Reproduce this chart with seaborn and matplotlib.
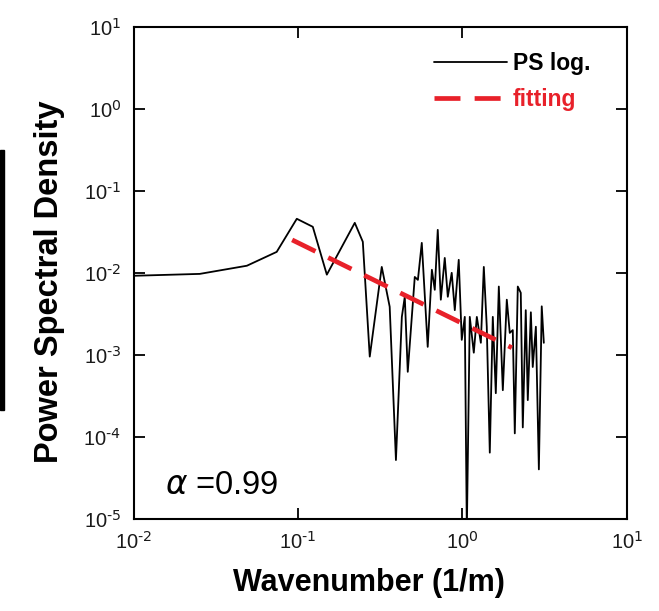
import numpy as np
import pandas as pd
import seaborn as sns
import matplotlib.pyplot as plt
from matplotlib.ticker import FixedLocator, NullLocator, FuncFormatter
from matplotlib.patches import Rectangle

# power spectrum (wavenumber 1/m, PSD)
ps_k = [0.0100, 0.0252, 0.0488, 0.0741, 0.0982, 0.1229, 0.1496, 0.2213, 0.2477,
        0.273, 0.323, 0.361, 0.394, 0.428, 0.446, 0.465, 0.513, 0.536, 0.566,
        0.615, 0.652, 0.679, 0.708, 0.739, 0.781, 0.815, 0.861, 0.899, 0.950,
        0.991, 1.034, 1.064, 1.109, 1.173, 1.224, 1.295, 1.350, 1.407, 1.468,
        1.531, 1.597, 1.666, 1.762, 1.863, 1.942, 2.026, 2.084, 2.173, 2.266,
        2.331, 2.430, 2.500, 2.610, 2.680, 2.800, 2.920, 3.040, 3.130]
ps_val = [0.0092, 0.0097, 0.0122, 0.0180, 0.0456, 0.0364, 0.0095, 0.0407, 0.0239,
          0.00095, 0.0118, 0.00385, 5.2e-5, 0.0029, 0.0051, 0.00062, 0.0089, 0.0082, 0.0232,
          0.00125, 0.0109, 0.0062, 0.0334, 0.0047, 0.0152, 0.0051, 0.0100, 0.0035, 0.0144,
          0.00152, 0.0029, 7e-6, 0.0029, 0.00106, 0.0029, 0.0014, 0.0118, 0.0022, 6.4e-5,
          0.0029, 0.00034, 0.0068, 0.00037, 0.0047, 0.00185, 0.0020, 0.00011, 0.0068, 0.0057,
          0.00013, 0.0035, 0.00028, 0.0033, 0.00071, 0.0022, 4.0e-5, 0.0039, 0.0014]

# power-law fit, alpha = 0.99
fit_k = [0.092, 2.0]
fit_val = [0.0252, 0.00122]

# decade ticks
x_ticks = [1e-2, 1e-1, 1e0, 1e1]
y_ticks = [1e-5, 1e-4, 1e-3, 1e-2, 1e-1, 1e0, 1e1]

sns.set_style('ticks')
plt.rcParams['font.family'] = ['Liberation Sans', 'DejaVu Sans']
plt.rcParams['mathtext.default'] = 'regular'
plt.rcParams['axes.unicode_minus'] = False
plt.rcParams['text.color'] = 'black'
plt.rcParams['axes.labelcolor'] = 'black'

fig = plt.figure(figsize=(6.59, 6.11), dpi=100)
ax = fig.add_axes([0.203, 0.151, 0.748, 0.805])

ps = pd.DataFrame({'k': ps_k, 'psd': ps_val})
fit = pd.DataFrame({'k': fit_k, 'psd': fit_val})
sns.lineplot(data=ps, x='k', y='psd', ax=ax, color='black', lw=1.3, label='PS log.')
sns.lineplot(data=fit, x='k', y='psd', ax=ax, color='#e8212a', lw=3.4,
             ls=(0, (5.5, 3.0)), label='fitting')

def pow10(v, pos):
    # short hyphen in the exponent, as in the original
    return r'10$^{\text{%d}}$' % int(round(np.log10(v)))

ax.set(xscale='log', yscale='log', xlim=(1e-2, 1e1), ylim=(1e-5, 1e1))
for axis, t in ((ax.xaxis, x_ticks), (ax.yaxis, y_ticks)):
    axis.set_major_locator(FixedLocator(t))
    axis.set_minor_locator(NullLocator())
    axis.set_major_formatter(FuncFormatter(pow10))
ax.tick_params(which='major', direction='in', length=8, width=1.3, color='black',
               top=True, right=True, labelsize=14.5, pad=9, labelcolor='#1a1a1a')
for s in ax.spines.values():
    s.set_linewidth(1.5)
    s.set_color('black')

ax.set_xlabel('Wavenumber (1/m)', fontsize=22, fontweight='bold')
ax.xaxis.set_label_coords(0.477, -0.1)
ax.set_ylabel('Power Spectral Density', fontsize=23.5, fontweight='bold')
ax.yaxis.set_label_coords(-0.14, 0.482)

ax.text(0.063, 0.068, r'$\mathit{\alpha}$ =0.99', transform=ax.transAxes,
        fontsize=23.5, va='center', ha='left')

leg = ax.legend(loc='upper right', bbox_to_anchor=(0.968, 0.99), frameon=False,
                handlelength=3.2, handletextpad=0.25, labelspacing=0.55,
                prop={'weight': 'bold', 'size': 16.5})
for txt, col in zip(leg.get_texts(), ['black', '#e8212a']):
    txt.set_color(col)

# dark bar at the left edge of the source image
fig.patches.append(Rectangle((0, 0.329), 0.006, 0.425, transform=fig.transFigure,
                             color='black', zorder=5))

fig.savefig('out.png', dpi=100)
